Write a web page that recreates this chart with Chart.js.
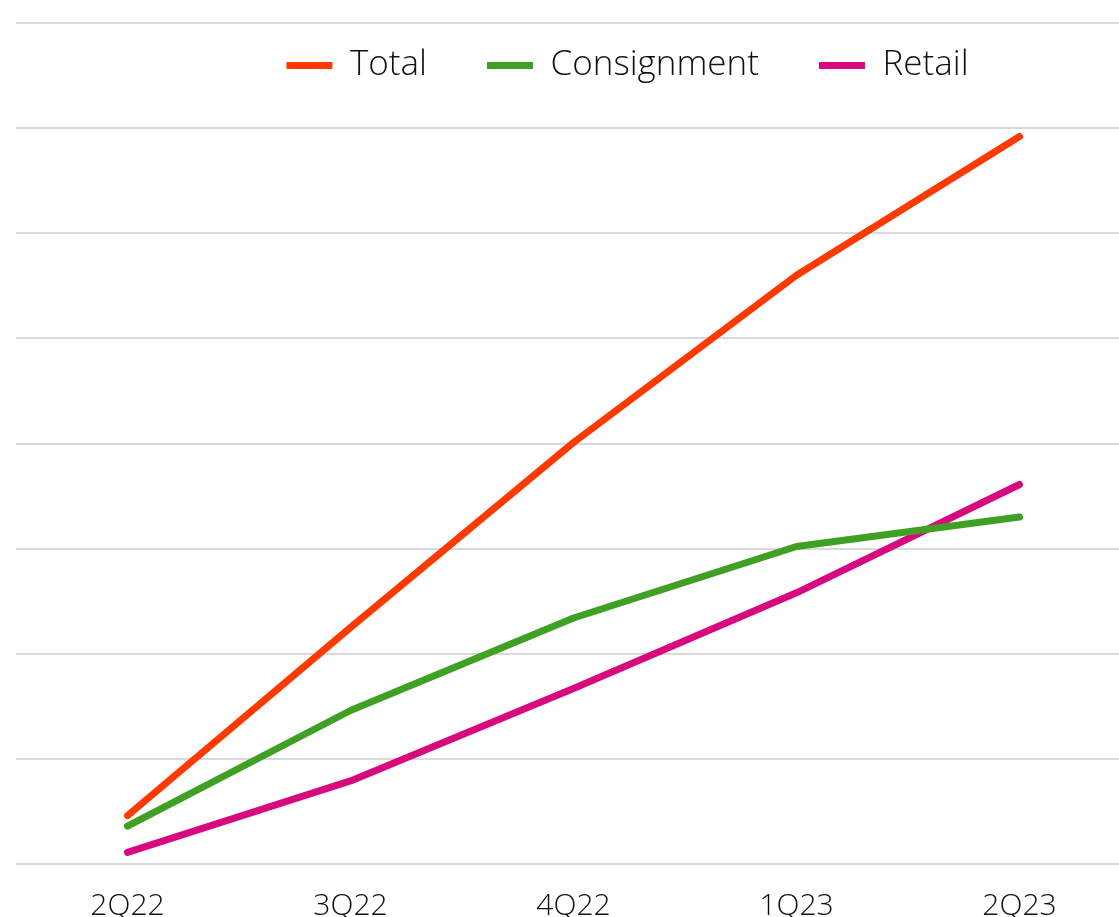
<!DOCTYPE html>
<html lang="en">
<head>
    <meta charset="UTF-8">
    <title>Total / Consignment / Retail</title>
    <script src="https://cdn.jsdelivr.net/npm/chart.js"></script>
    <style>
        html, body { margin: 0; padding: 0; background: #fff; overflow: hidden; }
        #wrap { width: 1131px; height: 917px; position: relative; }
    </style>
</head>
<body>
    <div id="wrap"><canvas id="lineChart"></canvas></div>

    <script>
        const quarters = ['2Q22', '3Q22', '4Q22', '1Q23', '2Q23'];
        const total = [0.46, 2.25, 4.01, 5.60, 6.92];
        const consignment = [0.36, 1.46, 2.34, 3.02, 3.30];
        const retail = [0.11, 0.79, 1.67, 2.58, 3.61];

        // legend takes (almost) no room; move it down into the plot area
        // and give it a box big enough so its clip doesn't hide it
        const legendShift = {
            id: 'legendShift',
            afterLayout(chart) {
                const lg = chart.legend;
                lg.left += 54;
                lg.right += 54;
                lg.top = -12;
                lg.bottom = 130;
                lg.height = lg.bottom - lg.top;
            }
        };

        function line(label, data, color) {
            return {
                label: label,
                data: data,
                borderColor: color,
                backgroundColor: color,
                borderWidth: 7,
                borderCapStyle: 'round',
                borderJoinStyle: 'round',
                pointRadius: 0,
                pointStyle: 'line',
                tension: 0,
                fill: false
            };
        }

        new Chart(document.getElementById('lineChart'), {
            type: 'line',
            data: {
                labels: quarters,
                datasets: [
                    line('Total', total, '#ff3a00'),
                    line('Consignment', consignment, '#40a024'),
                    line('Retail', retail, '#d8097e')
                ]
            },
            options: {
                responsive: true,
                maintainAspectRatio: false,
                animation: false,
                layout: { padding: { left: 16, right: 0, top: 22, bottom: -23 } },
                plugins: {
                    tooltip: { enabled: false },
                    legend: {
                        position: 'top',
                        align: 'center',
                        maxHeight: 1,
                        labels: {
                            usePointStyle: true,
                            pointStyleWidth: 46,
                            padding: 60,
                            color: '#111',
                            font: { family: 'Open Sans', size: 35, weight: 300 }
                        }
                    }
                },
                scales: {
                    x: {
                        offset: true,
                        grid: { display: false },
                        border: { display: false },
                        ticks: {
                            padding: 16,
                            color: '#111',
                            font: { family: 'Open Sans', size: 30, weight: 300 }
                        }
                    },
                    y: {
                        min: 0,
                        max: 8,
                        ticks: { display: false, stepSize: 1 },
                        border: { display: false },
                        grid: { color: '#d9d9d9', lineWidth: 2, drawTicks: false }
                    }
                }
            },
            plugins: [legendShift]
        });
    </script>
</body>
</html>
